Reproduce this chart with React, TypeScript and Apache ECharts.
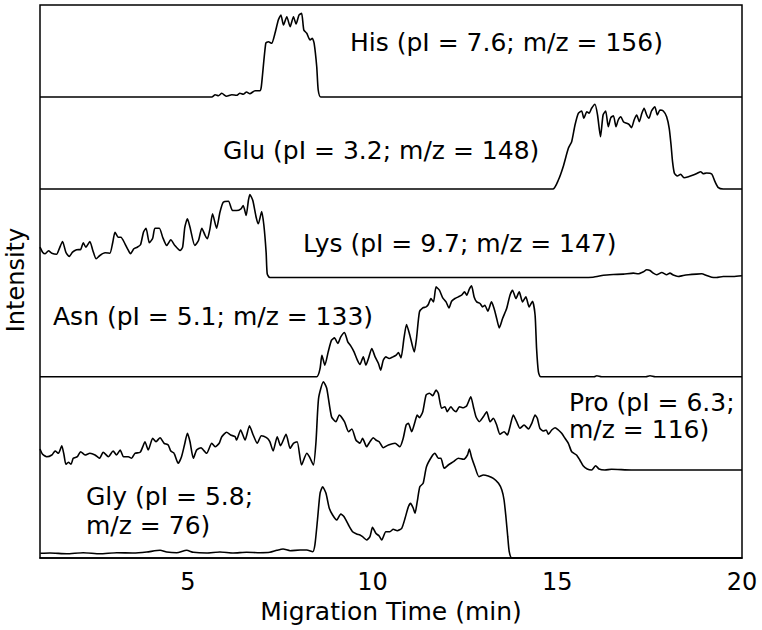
import React, { useEffect, useRef } from "react";
import * as echarts from "echarts";

// Tick labels of the time axis (min)
const timeTicks = [5, 10, 15, 20];

// Trace names and annotation texts (top to bottom)
const traceNames = ["His", "Glu", "Lys", "Asn", "Pro", "Gly"];
const traceLabels = [
  "His (pI = 7.6; m/z = 156)",
  "Glu (pI = 3.2; m/z = 148)",
  "Lys (pI = 9.7; m/z = 147)",
  "Asn (pI = 5.1; m/z = 133)",
  "Pro (pI = 6.3;\nm/z = 116)",
  "Gly (pI = 5.8;\nm/z = 76)",
];

// Vertical offset of each trace (intensity units)
const traceBaselines = [461, 369, 280.5, 181.3, 88, 0];

// [migration time (min), intensity above own baseline]
const hisTrace = [
  [1, 0], [5.65, 0], [5.74, 2.3], [5.83, 1.3], [5.92, 3.7], [6.05, 0.7], [6.19, 2.3], [6.32, 1.7],
  [6.41, 3.7], [6.5, 2.7], [6.59, 5], [6.68, 3.3], [6.82, 6.3], [6.95, 6.3], [6.99, 10.3], [7.11, 53.7],
  [7.18, 55.3], [7.27, 53.7], [7.36, 63.7], [7.45, 77], [7.52, 82], [7.59, 72], [7.68, 80.3], [7.77, 70.3],
  [7.86, 80.3], [7.93, 73], [8.01, 82], [8.08, 83.7], [8.14, 67], [8.22, 63.7], [8.31, 57], [8.37, 58.7],
  [8.42, 53.7], [8.49, 30.3], [8.53, 7], [8.6, 0], [20, 0],
];

const gluTrace = [
  [1, 0], [14.88, 0], [15.03, 9], [15.16, 22.3], [15.3, 40.7], [15.39, 47.3], [15.48, 64], [15.57, 75.7],
  [15.66, 78], [15.72, 70.7], [15.8, 77.3], [15.86, 75.7], [15.93, 80.7], [16.02, 84.7], [16.09, 74],
  [16.17, 52.3], [16.24, 74], [16.31, 78], [16.38, 62.3], [16.45, 71.3], [16.52, 73.3], [16.59, 62.3],
  [16.65, 69], [16.72, 72.3], [16.79, 67.3], [16.88, 65.7], [16.94, 64.7], [17.01, 61.3], [17.08, 69],
  [17.15, 74], [17.22, 67.3], [17.29, 75.7], [17.35, 80.7], [17.42, 74], [17.48, 70.7], [17.55, 78],
  [17.64, 82.3], [17.71, 74], [17.78, 79], [17.87, 78], [17.96, 72.3], [18.03, 60.7], [18.08, 44],
  [18.12, 27.3], [18.17, 15.7], [18.25, 13], [18.34, 14.7], [18.43, 11.3], [18.55, 12.3], [18.68, 14],
  [18.79, 15.7], [18.88, 17.3], [18.95, 15.3], [19.04, 16], [19.18, 15], [19.27, 7.3], [19.36, 1.3],
  [19.49, 0], [20, 0],
];

const lysTrace = [
  [1.0, 30.3], [1.07, 25.3], [1.14, 23.7], [1.23, 26.7], [1.32, 24.3], [1.45, 23.3], [1.52, 28.7], [1.61, 36],
  [1.7, 25.3], [1.79, 21], [1.88, 25.3], [1.99, 27.7], [2.1, 28], [2.17, 34.7], [2.24, 30.3], [2.35, 36],
  [2.43, 27], [2.52, 18.7], [2.62, 22], [2.76, 24.7], [2.89, 24.3], [2.97, 35.3], [3.03, 45.3], [3.12, 40.3],
  [3.19, 40.3], [3.3, 33.7], [3.37, 28.7], [3.45, 23.7], [3.54, 28.7], [3.63, 30.3], [3.72, 32.7], [3.8, 45.3],
  [3.87, 49.3], [3.96, 34.7], [4.05, 39.3], [4.11, 49.3], [4.23, 49.3], [4.32, 40.3], [4.43, 32], [4.54, 37.7],
  [4.65, 32], [4.79, 27], [4.86, 30.3], [4.92, 50.3], [4.99, 58.7], [5.06, 50.3], [5.19, 32], [5.29, 37],
  [5.38, 49.3], [5.47, 42], [5.53, 38.7], [5.6, 48.7], [5.67, 63.7], [5.78, 49.3], [5.87, 65.3], [5.96, 75.3],
  [6.1, 76.3], [6.21, 67], [6.32, 67], [6.44, 68.7], [6.5, 72], [6.58, 62], [6.64, 77], [6.68, 83],
  [6.76, 77], [6.85, 60.3], [6.91, 53.7], [7.0, 66], [7.06, 52], [7.12, 25.3], [7.15, 3.7], [7.22, 0],
  [15.07, 0], [15.97, 0.3], [16.25, 2.3], [16.52, 3], [16.79, 3.4], [17.06, 4.4], [17.19, 3.7], [17.33, 5.7],
  [17.42, 7.7], [17.51, 7], [17.6, 4.4], [17.69, 2.7], [17.83, 5], [17.96, 2.7], [18.05, 4.4], [18.14, 2.4],
  [18.27, 1], [18.41, 2], [18.55, 2.7], [18.77, 3.4], [18.91, 3.7], [19.04, 2], [19.18, 0.3], [19.31, 0],
  [19.49, 1], [19.76, 1], [20, 1.7],
];

const asnTrace = [
  [1, 0], [8.49, 0], [8.58, 8.2], [8.63, 21.5], [8.71, 11.5], [8.8, 24.8], [8.89, 36.5], [8.97, 38.8],
  [9.06, 33.2], [9.14, 39.8], [9.24, 44.2], [9.33, 34.8], [9.41, 30.8], [9.5, 24.8], [9.59, 16.5],
  [9.66, 12.2], [9.75, 19.8], [9.82, 11.5], [9.89, 18.2], [9.98, 28.2], [10.07, 19.8], [10.16, 13.2],
  [10.22, 6.5], [10.29, 16.5], [10.36, 19.8], [10.45, 18.2], [10.55, 19.8], [10.64, 21.5], [10.7, 24.2],
  [10.77, 18.8], [10.85, 38.2], [10.92, 52.2], [11.01, 41.5], [11.13, 24.8], [11.19, 38.2], [11.27, 64.8],
  [11.36, 68.8], [11.45, 69.8], [11.51, 72.2], [11.58, 78.2], [11.65, 74.8], [11.72, 89.8], [11.81, 86.5],
  [11.9, 78.8], [11.99, 74.8], [12.07, 68.8], [12.14, 75.5], [12.23, 78.2], [12.32, 79.8], [12.41, 81.5],
  [12.49, 84.8], [12.55, 81.5], [12.62, 87.5], [12.68, 90.8], [12.75, 79.8], [12.82, 74.8], [12.91, 73.2],
  [12.98, 69.8], [13.04, 71.5], [13.12, 65.5], [13.22, 74.8], [13.29, 68.2], [13.36, 58.2], [13.43, 48.8],
  [13.52, 58.2], [13.63, 68.2], [13.72, 81.5], [13.79, 86.5], [13.88, 78.2], [13.97, 84.8], [14.06, 74.8],
  [14.15, 79.8], [14.24, 69.8], [14.33, 75.5], [14.4, 61.5], [14.44, 28.2], [14.49, 4.8], [14.55, 0],
  [16.0, 0], [16.07, 1], [16.2, 0], [17.4, 0], [17.51, 1], [17.65, 0], [20, 0],
];

const proTrace = [
  [1.0, 21], [1.07, 15.7], [1.18, 13.3], [1.32, 15], [1.41, 19], [1.5, 16.7], [1.59, 24.3], [1.65, 15],
  [1.7, 5.7], [1.77, 7.7], [1.84, 5.7], [1.9, 11.7], [2.01, 13.3], [2.1, 18.3], [2.22, 15], [2.35, 16.7],
  [2.49, 15], [2.61, 11.7], [2.71, 17.7], [2.85, 13.3], [2.98, 19], [3.07, 15], [3.17, 20], [3.26, 13.3],
  [3.39, 13.3], [3.48, 11.7], [3.57, 16.7], [3.71, 17.7], [3.8, 25], [3.84, 28.3], [3.93, 20], [4.05, 31.7],
  [4.14, 28.3], [4.25, 32.3], [4.36, 26.7], [4.47, 25], [4.54, 19], [4.63, 16.7], [4.74, 6.7], [4.83, 13.3],
  [4.91, 25], [4.99, 36.7], [5.06, 28.3], [5.15, 11.7], [5.24, 20], [5.36, 22.3], [5.42, 20], [5.51, 16.7],
  [5.65, 26.7], [5.74, 23.3], [5.85, 26.7], [5.92, 33.3], [6.05, 37.7], [6.16, 35], [6.28, 33.3], [6.32, 30],
  [6.43, 40], [6.55, 30], [6.67, 44.3], [6.77, 35], [6.88, 26.7], [6.99, 34.3], [7.13, 32.3], [7.22, 28.3],
  [7.31, 19], [7.42, 33.3], [7.51, 24.3], [7.66, 35.7], [7.77, 21.7], [7.86, 26.7], [7.96, 28.3], [8.08, 5],
  [8.22, 16.7], [8.29, 13.3], [8.4, 5], [8.47, 28.3], [8.54, 71.7], [8.67, 88.3], [8.76, 81.7], [8.89, 53.3],
  [9.01, 48.3], [9.1, 55], [9.24, 48.3], [9.35, 38.3], [9.44, 41], [9.55, 30], [9.66, 26.7], [9.73, 31.7],
  [9.84, 23.3], [9.93, 28.3], [10.02, 32.3], [10.09, 30], [10.18, 28.3], [10.29, 22.3], [10.43, 25],
  [10.61, 26.7], [10.74, 23.3], [10.83, 31.7], [10.91, 45], [10.97, 46.7], [11.06, 38.3], [11.15, 48.3],
  [11.21, 55], [11.27, 52.3], [11.36, 58.3], [11.45, 75], [11.54, 76.7], [11.63, 74.3], [11.72, 80],
  [11.78, 76.7], [11.87, 61.7], [11.96, 63.3], [12.02, 58.3], [12.12, 63.3], [12.19, 60], [12.26, 58.3],
  [12.35, 63.3], [12.46, 62.3], [12.55, 64.3], [12.66, 73.3], [12.73, 63.3], [12.8, 53.3], [12.89, 48.3],
  [13.0, 53.3], [13.09, 58.3], [13.18, 48.3], [13.27, 51.7], [13.36, 45], [13.45, 35.7], [13.56, 38.3],
  [13.65, 35], [13.72, 43.3], [13.81, 55], [13.9, 48.3], [13.99, 41.7], [14.1, 45], [14.22, 41],
  [14.31, 46.7], [14.4, 55], [14.46, 51.7], [14.53, 41.7], [14.62, 39], [14.7, 40], [14.76, 35.7],
  [14.85, 40], [14.94, 42.3], [15.03, 40], [15.12, 36.7], [15.21, 31.7], [15.3, 26.7], [15.39, 18.3],
  [15.52, 15], [15.61, 10], [15.7, 4.3], [15.81, 1], [15.93, 0], [16.04, 4.3], [16.13, 1], [16.29, 0],
  [16.47, 0.7], [17, 0], [20, 0],
];

const glyTrace = [
  [1.01, 4.7], [1.27, 5], [1.72, 4.3], [2.17, 5.3], [2.62, 4.3], [3.08, 5.3], [3.53, 5], [3.89, 6],
  [4.25, 7.7], [4.43, 6], [4.7, 5.3], [4.97, 7.7], [5.15, 5.7], [5.51, 5], [5.87, 6], [6.23, 5],
  [6.59, 5.7], [6.95, 5.3], [7.22, 5.7], [7.41, 7.7], [7.58, 9], [7.77, 7.3], [8.04, 8], [8.22, 8],
  [8.38, 6.3], [8.44, 13], [8.51, 38], [8.58, 64.7], [8.65, 71.3], [8.74, 64.7], [8.83, 49.7], [8.92, 43],
  [9.03, 38], [9.14, 44], [9.23, 41.3], [9.35, 33], [9.46, 26.3], [9.57, 24], [9.66, 23], [9.73, 21.3],
  [9.84, 18], [9.93, 21.3], [10.0, 30.7], [10.09, 24.7], [10.18, 22], [10.25, 18], [10.36, 26.3],
  [10.47, 26.3], [10.56, 28.7], [10.67, 27.3], [10.79, 29.7], [10.88, 39.7], [10.97, 51.3], [11.03, 54.7],
  [11.1, 50], [11.15, 44.7], [11.21, 56.3], [11.28, 71.3], [11.37, 74.7], [11.46, 91.3], [11.6, 101.3],
  [11.69, 104.7], [11.78, 99.7], [11.85, 99.7], [11.94, 89.7], [12.05, 93], [12.19, 96.3], [12.32, 99.7],
  [12.46, 98.7], [12.57, 103], [12.62, 109], [12.68, 100.7], [12.77, 91.3], [12.88, 81.3], [13.0, 83],
  [13.13, 82], [13.27, 79.7], [13.41, 74.7], [13.5, 68], [13.56, 58], [13.61, 41.3], [13.66, 21.3],
  [13.7, 6.3], [13.77, 0], [20, 0],
];

const FONT = "'DejaVu Sans', 'Liberation Sans', Arial, sans-serif";

export default function App() {
  const ref = useRef<HTMLDivElement>(null);

  useEffect(() => {
    if (!ref.current) return;
    const chart = echarts.init(ref.current, null, { renderer: "svg" });
    const traces = [hisTrace, gluTrace, lysTrace, asnTrace, proTrace, glyTrace];

    // label anchor positions (left x, vertical middle y), line heights
    const labelPos = [
      { x: 350, y: 42.5, lh: 27 },
      { x: 223, y: 150, lh: 27 },
      { x: 303, y: 243.5, lh: 27 },
      { x: 53, y: 316.5, lh: 27 },
      { x: 569, y: 415.5, lh: 27 },
      { x: 86, y: 510.5, lh: 29 },
    ];

    chart.setOption({
      animation: false,
      backgroundColor: "#fff",
      grid: {
        left: 40,
        right: 20,
        top: 5,
        bottom: 72,
        show: true,
        borderColor: "#000",
        borderWidth: 1.5,
        backgroundColor: "transparent",
        containLabel: false,
        outerBoundsMode: "none",
      },
      xAxis: {
        type: "value",
        min: 1,
        max: 20,
        name: "Migration Time (min)",
        nameLocation: "middle",
        nameGap: 38,
        nameTextStyle: { fontFamily: FONT, fontSize: 25, color: "#000" },
        axisLine: { show: true, onZero: false, lineStyle: { color: "#000", width: 1.5 } },
        axisTick: { show: false },
        splitLine: { show: false },
        axisLabel: {
          customValues: timeTicks,
          fontFamily: FONT,
          fontSize: 24,
          color: "#000",
          margin: 12,
        },
      },
      yAxis: {
        type: "value",
        min: 0,
        max: 553,
        show: false,
        splitLine: { show: false },
      },
      series: traces.map((tr, i) => ({
        type: "line",
        name: traceNames[i],
        data: tr.map(([t, v]) => [t, v + traceBaselines[i]]),
        showSymbol: false,
        symbol: "none",
        smooth: 0.2,
        clip: false,
        silent: true,
        lineStyle: { color: "#000", width: 1.6 },
      })),
      graphic: [
        ...traceLabels.map((txt, i) => ({
          type: "text",
          x: labelPos[i].x,
          y: labelPos[i].y,
          silent: true,
          style: {
            text: txt,
            font: `25px ${FONT}`,
            fill: "#000",
            align: "left",
            verticalAlign: "middle",
            lineHeight: labelPos[i].lh,
          },
        })),
        {
          type: "text",
          x: 16,
          y: 280,
          rotation: Math.PI / 2,
          silent: true,
          style: {
            text: "Intensity",
            font: `24px ${FONT}`,
            fill: "#000",
            align: "center",
            verticalAlign: "middle",
          },
        },
      ],
    });

    return () => chart.dispose();
  }, []);

  return (
    <div
      ref={ref}
      style={{ position: "fixed", left: 0, top: 0, width: 762, height: 630, background: "#fff" }}
    />
  );
}
